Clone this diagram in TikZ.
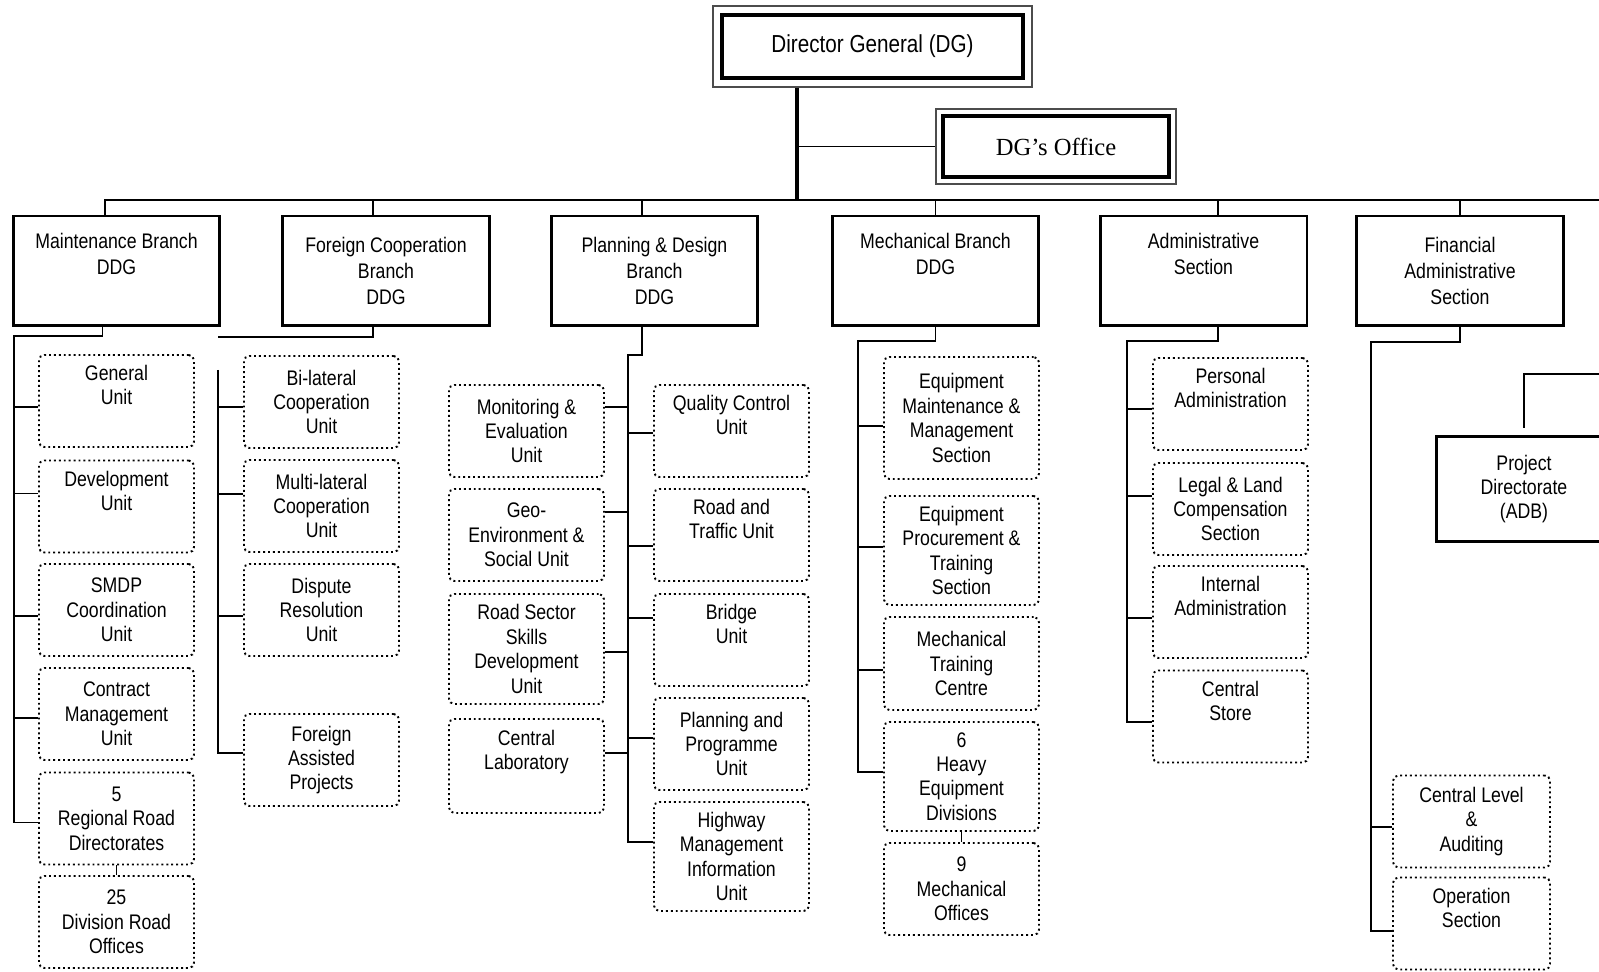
\documentclass[tikz,border=0pt]{standalone}
\usepackage{fontspec}
\setmainfont{Liberation Sans}[FakeStretch=0.84]
\newfontfamily\officefont{Liberation Serif}
\usetikzlibrary{positioning}

\begin{document}
\begin{tikzpicture}[x=0.02cm, y=-0.02cm,
  topbox/.style={draw=black!70, line width=1pt, minimum width=6.38cm,
    minimum height=1.62cm, font=\fontsize{14}{16}\selectfont},
  branchbox/.style={draw, line width=1.7pt, align=center, minimum width=4.14cm,
    minimum height=2.2cm, inner sep=1pt, font=\fontsize{12}{15}\selectfont},
  unitbox/.style={draw, line width=1.1pt, dash pattern=on 1.1pt off 1.7pt,
    rounded corners=3pt, align=center, minimum width=3.1cm, minimum height=1.84cm,
    inner sep=1pt, font=\fontsize{12}{13.9}\selectfont},
  link/.style={line width=1pt},
  bus/.style={line width=1.2pt},
  mainline/.style={line width=2pt}
]
\useasboundingbox (0,0) rectangle (1599,972);
\clip (0,0) rectangle (1599,972);

\node[topbox] (dg) at (872.5,46.5) {Director General (DG)};
\draw[line width=2pt] ([shift={(10,10)}]dg.north west) rectangle ([shift={(-10,-10)}]dg.south east);
\node[topbox, minimum width=4.8cm, minimum height=1.5cm,
  font=\officefont\fontsize{14}{16}\selectfont] (office) at (1056,146.5) {DG’s Office};
\draw[line width=2pt] ([shift={(8,8)}]office.north west) rectangle ([shift={(-8,-8)}]office.south east);

\node[branchbox] (maint) at (116.5,271) {Maintenance Branch\\DDG\\\strut};
\node[branchbox] (foreign) at (386,271) {Foreign Cooperation\\Branch\\DDG};
\node[branchbox] (plan) at (654.5,271) {Planning \& Design\\Branch\\DDG};
\node[branchbox] (mech) at (935.5,271) {Mechanical Branch\\DDG\\\strut};
\node[branchbox] (admin) at (1203.5,271) {Administrative\\Section\\\strut};
\node[branchbox] (fin) at (1460,271) {Financial\\Administrative\\Section};
\node[branchbox, minimum width=3.52cm, minimum height=2.12cm,
  font=\fontsize{12}{13.9}\selectfont] (project) at (1524,489) {Project\\Directorate\\(ADB)};

\node[unitbox] (gen) at (116.5,401) {General\\Unit\\\strut};
\node[unitbox] (dev) at (116.5,506.5) {Development\\Unit\\\strut};
\node[unitbox] (smdp) at (116.5,610) {SMDP\\Coordination\\Unit};
\node[unitbox] (contract) at (116.5,714) {Contract\\Management\\Unit};
\node[unitbox] (regional) at (116.5,818.5) {5\\Regional Road\\Directorates};
\node[unitbox] (division) at (116.5,922) {25\\Division Road\\Offices};

\node[unitbox] (bilat) at (321.5,402) {Bi-lateral\\Cooperation\\Unit};
\node[unitbox] (multi) at (321.5,506) {Multi-lateral\\Cooperation\\Unit};
\node[unitbox] (dispute) at (321.5,610) {Dispute\\Resolution\\Unit};
\node[unitbox] (assisted) at (321.5,760) {Foreign\\Assisted\\Projects};

\node[unitbox] (monitor) at (526.5,431) {Monitoring \&\\Evaluation\\Unit};
\node[unitbox] (geo) at (526.5,535) {Geo-\\Environment \&\\Social Unit};
\node[unitbox, minimum height=2.2cm] (skills) at (526.5,649) {Road Sector\\Skills\\Development\\Unit};
\node[unitbox, minimum height=1.88cm] (lab) at (526.5,766) {Central\\Laboratory\\\strut};
\node[unitbox] (quality) at (731.5,431) {Quality Control\\Unit\\\strut};
\node[unitbox] (traffic) at (731.5,535) {Road and\\Traffic Unit\\\strut};
\node[unitbox] (bridge) at (731.5,640) {Bridge\\Unit\\\strut};
\node[unitbox] (programme) at (731.5,744) {Planning and\\Programme\\Unit};
\node[unitbox, minimum height=2.18cm] (hmis) at (731.5,856.5) {Highway\\Management\\Information\\Unit};

\node[unitbox, minimum height=2.44cm] (equipmaint) at (961.5,418) {Equipment\\Maintenance \&\\Management\\Section};
\node[unitbox, minimum height=2.18cm] (equipproc) at (961.5,550.5) {Equipment\\Procurement \&\\Training\\Section};
\node[unitbox, minimum height=1.86cm] (training) at (961.5,663.5) {Mechanical\\Training\\Centre};
\node[unitbox, minimum height=2.18cm] (heavy) at (961.5,776.5) {6\\Heavy\\Equipment\\Divisions};
\node[unitbox] (mechoff) at (961.5,889) {9\\Mechanical\\Offices};

\node[unitbox] (personal) at (1230.5,404) {Personal\\Administration\\\strut};
\node[unitbox] (legal) at (1230.5,509) {Legal \& Land\\Compensation\\Section};
\node[unitbox] (internal) at (1230.5,612) {Internal\\Administration\\\strut};
\node[unitbox] (store) at (1230.5,716.5) {Central\\Store\\\strut};

\node[unitbox, minimum width=3.14cm] (central) at (1471.5,821.5) {Central Level\\\&\\Auditing};
\node[unitbox, minimum width=3.14cm] (operation) at (1471.5,923.5) {Operation\\Section\\\strut};

\coordinate (dgtrunk) at (797,200);
\coordinate (busleft) at (105,200);
\coordinate (busright) at (1610,200);
\draw[mainline] (dgtrunk |- dg.south) -- (dgtrunk);
\draw[link] (dgtrunk |- office.west) -- (office.west);
\draw[bus] (busleft) -- (busright);
\draw[link] ([shift={(-11.5,0)}]maint.north) -- ++(0,-16);
\draw[link] ([shift={(-13,0)}]foreign.north) -- ++(0,-16);
\draw[link] ([shift={(-12.5,0)}]plan.north) -- ++(0,-16);
\draw[link] (mech.north) -- ++(0,-16);
\draw[link] ([shift={(14.5,0)}]admin.north) -- ++(0,-16);
\draw[link] (fin.north) -- ++(0,-16);

\coordinate (mtop) at (14,336);
\draw[link] ([shift={(-14,0)}]maint.south) |- (mtop) |- ([shift={(0,4)}]regional.west);
\draw[link] ([shift={(0,6)}]gen.west) -| (mtop);
\draw[link] ([shift={(0,-13)}]dev.west) -| (mtop);
\draw[link] ([shift={(0,6)}]smdp.west) -| (mtop);
\draw[link] ([shift={(0,4)}]contract.west) -| (mtop);
\draw[link] (regional.south) -- (division.north);

\coordinate (fjoin) at (218,337);
\coordinate (ftop) at (218,370);
\draw[link] ([shift={(-13,0)}]foreign.south) |- (fjoin);
\draw[link] (ftop) |- ([shift={(0,-7)}]assisted.west);
\draw[link] ([shift={(0,5)}]bilat.west) -| (ftop);
\draw[link] ([shift={(0,-12)}]multi.west) -| (ftop);
\draw[link] ([shift={(0,6)}]dispute.west) -| (ftop);

\coordinate (ptop) at (628,355);
\draw[link] ([shift={(-12.5,0)}]plan.south) |- (ptop) |- ([shift={(0,-14.5)}]hmis.west);
\draw[link] ([shift={(0,-24)}]monitor.east) -| (ptop);
\draw[link] ([shift={(0,-23)}]geo.east) -| (ptop);
\draw[link] ([shift={(0,3)}]skills.east) -| (ptop);
\draw[link] ([shift={(0,-13)}]lab.east) -| (ptop);
\draw[link] ([shift={(0,2)}]quality.west) -| (ptop);
\draw[link] ([shift={(0,11)}]traffic.west) -| (ptop);
\draw[link] ([shift={(0,-22)}]bridge.west) -| (ptop);
\draw[link] ([shift={(0,-6)}]programme.west) -| (ptop);

\coordinate (ctop) at (858,341);
\draw[link] (mech.south) |- (ctop) |- ([shift={(0,-4.5)}]heavy.west);
\draw[link] ([shift={(0,8)}]equipmaint.west) -| (ctop);
\draw[link] ([shift={(0,-3.5)}]equipproc.west) -| (ctop);
\draw[link] ([shift={(0,6.5)}]training.west) -| (ctop);
\draw[link] (heavy.south) -- (mechoff.north);

\coordinate (atop) at (1127,341);
\draw[link] ([shift={(14.5,0)}]admin.south) |- (atop) |- ([shift={(0,5.5)}]store.west);
\draw[link] ([shift={(0,5)}]personal.west) -| (atop);
\draw[link] ([shift={(0,-13)}]legal.west) -| (atop);
\draw[link] ([shift={(0,6)}]internal.west) -| (atop);

\coordinate (ntop) at (1371,342);
\draw[link] (fin.south) |- (ntop) |- ([shift={(0,7.5)}]operation.west);
\draw[link] ([shift={(0,5.5)}]central.west) -| (ntop);

\coordinate (pdright) at (1610,374);
\draw[link] ([shift={(0,-7)}]project.north) |- (pdright);
\end{tikzpicture}
\end{document}
